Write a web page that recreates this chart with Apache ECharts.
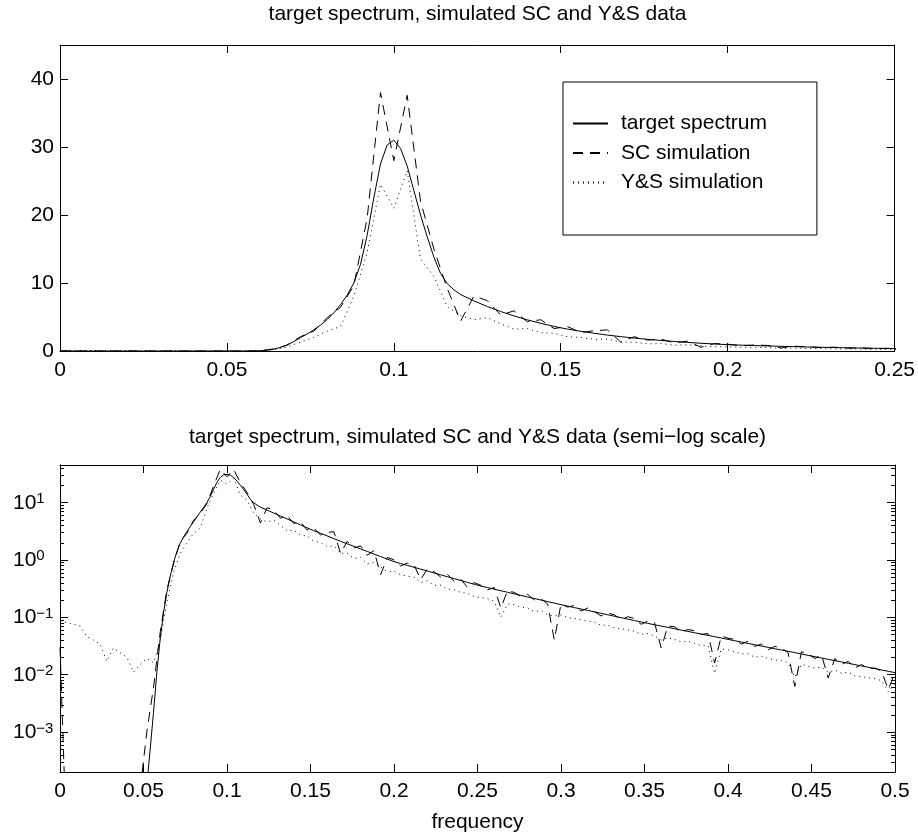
<!DOCTYPE html>
<html><head><meta charset="utf-8">
<script src="https://cdn.jsdelivr.net/npm/echarts@6/dist/echarts.min.js"></script>
<style>html,body{margin:0;padding:0;background:#fff}#c{width:918px;height:837px}</style>
</head><body><div id="c"></div><script>
// frequency grid of the simulated spectra
const freqSim = [0,0.004,0.008,0.012,0.016,0.02,0.024,0.028,0.032,0.036,
0.04,0.044,0.048,0.052,0.056,0.06,0.064,0.068,0.072,0.076,
0.08,0.084,0.088,0.092,0.096,0.1,0.104,0.108,0.112,0.116,
0.12,0.124,0.128,0.132,0.136,0.14,0.144,0.148,0.152,0.156,
0.16,0.164,0.168,0.172,0.176,0.18,0.184,0.188,0.192,0.196,
0.2,0.204,0.208,0.212,0.216,0.22,0.224,0.228,0.232,0.236,
0.24,0.244,0.248,0.252,0.256,0.26,0.264,0.268,0.272,0.276,
0.28,0.284,0.288,0.292,0.296,0.3,0.304,0.308,0.312,0.316,
0.32,0.324,0.328,0.332,0.336,0.34,0.344,0.348,0.352,0.356,
0.36,0.364,0.368,0.372,0.376,0.38,0.384,0.388,0.392,0.396,
0.4,0.404,0.408,0.412,0.416,0.42,0.424,0.428,0.432,0.436,
0.44,0.444,0.448,0.452,0.456,0.46,0.464,0.468,0.472,0.476,
0.48,0.484,0.488,0.492,0.496,0.5];

// target spectrum: finer sampling around the peak, then the simulation grid
const freqTargetHead = [0,0.01,0.02,0.03,0.04,
0.044,0.046,0.048,0.05,0.052,0.054,0.056,0.058,0.06,0.062,
0.064,0.066,0.068,0.07,0.072,0.074,0.076,0.078,0.08,0.082,
0.084,0.086,0.088,0.09,0.092,0.094,0.096,0.098,0.1,0.102,
0.104,0.106,0.108,0.11,0.112,0.114,0.116,0.118,0.12];
const freqTarget = freqTargetHead.concat(freqSim.slice(31));
const targetSpectrum = [0,0,0,0,0,
2e-9,1e-7,3e-6,2.5e-5,1.2e-4,5e-4,0.0022,0.011,0.042,0.12,
0.27,0.52,0.9,1.38,1.95,2.5,3.1,3.8,4.6,5.6,
6.8,8.2,10.0,12.7,17.0,22.5,27.5,30.3,31.0,29.8,
27.2,23.6,20.0,16.8,13.8,11.4,9.9,9.0,8.3,
7.37,6.54,5.81,5.16,4.58,4.07,3.61,3.22,2.90,2.61,
2.34,2.11,1.90,1.72,1.55,1.40,1.26,1.14,1.03,0.93,
0.862,0.80,0.741,0.687,0.637,0.590,0.547,0.507,0.470,0.436,
0.404,0.375,0.349,0.328,0.308,0.289,0.272,0.255,0.240,0.225,
0.212,0.199,0.187,0.176,0.165,0.156,0.147,0.139,0.131,0.124,
0.117,0.110,0.104,0.098,0.0926,0.0874,0.0825,0.0779,0.0738,0.070,
0.0664,0.0629,0.0596,0.0565,0.0536,0.0508,0.0482,0.0457,0.0433,0.041,
0.0389,0.0369,0.0349,0.0331,0.0314,0.0298,0.0282,0.0268,0.0254,0.0241,
0.0228,0.0216,0.0205,0.0194,0.0184,0.0175,0.0166,0.0157,0.0149,0.0141,
0.0134,0.0127,0.012,0.0114,0.0108];

const scSimulation = [0.03,0.00001,0,0,0,0,0,0,0,0,
0,0,0.0001,0.001,0.006,0.055,0.30,0.85,2.1,2.9,
4.9,6.4,9.6,19.5,38.0,28.0,37.6,22.0,15.0,9.2,
4.4,8.1,7.4,5.3,5.9,4.3,4.6,3.3,3.6,2.7,
3.0,3.1,1.3,2.1,1.6,1.75,1.2,1.45,0.55,1.1,
1.0,0.78,0.88,0.82,0.45,0.70,0.62,0.50,0.56,0.42,
0.46,0.33,0.40,0.36,0.30,0.33,0.145,0.29,0.27,0.23,
0.25,0.20,0.21,0.17,0.04,0.17,0.15,0.16,0.128,0.145,
0.125,0.105,0.118,0.11,0.09,0.102,0.095,0.075,0.086,0.08,
0.029,0.07,0.068,0.055,0.061,0.058,0.050,0.052,0.016,0.047,
0.043,0.041,0.034,0.038,0.031,0.034,0.027,0.031,0.029,0.024,
0.0062,0.025,0.023,0.019,0.022,0.0087,0.019,0.015,0.017,0.013,
0.015,0.0125,0.013,0.0115,0.0054,0.011];

const ysSimulation = [0.08,0.082,0.075,0.07,0.046,0.04,0.034,0.017,0.029,0.024,
0.02,0.011,0.015,0.019,0.016,0.04,0.18,0.6,1.3,2.0,
2.9,3.6,8.0,14.5,24.5,21.0,26.5,13.5,11.0,6.5,
5.2,4.6,4.9,4.0,3.2,3.3,2.7,2.6,2.1,2.0,
1.7,1.75,1.3,1.3,1.05,1.1,0.85,0.9,0.75,0.62,
0.63,0.55,0.52,0.5,0.4,0.43,0.36,0.36,0.31,0.30,
0.27,0.26,0.23,0.22,0.21,0.19,0.10,0.17,0.165,0.15,
0.145,0.125,0.13,0.11,0.105,0.11,0.098,0.095,0.09,0.085,
0.082,0.072,0.073,0.065,0.063,0.06,0.057,0.05,0.052,0.047,
0.04,0.044,0.041,0.037,0.038,0.035,0.032,0.032,0.0105,0.028,
0.027,0.025,0.023,0.023,0.02,0.021,0.019,0.018,0.0175,0.016,
0.009,0.015,0.014,0.013,0.0135,0.011,0.012,0.0105,0.011,0.0095,
0.0092,0.0088,0.0085,0.0078,0.005,0.007];

const seriesNames = ['target spectrum','SC simulation','Y&S simulation'];
const titleTop = 'target spectrum, simulated SC and Y&S data';
const titleBottom = 'target spectrum, simulated SC and Y&S data (semi\u2212log scale)';
const xLabelBottom = 'frequency';

const FONT = '"Liberation Sans", Arial, Helvetica, sans-serif';
const FS = 21;
const BLACK = '#000';
const DASH = [10, 7];
const DOT = [1, 4];

function pairs(xs, ys, log) {
  return xs.map((x, i) => [x, log ? (ys[i] > 0 ? ys[i] : null) : ys[i]]);
}
// log-axis minor tick positions (2..9 per decade)
const minorTicks = [];
for (let k = -4; k <= 1; k++) for (let m = 2; m <= 9; m++) {
  const v = m * Math.pow(10, k);
  if (v > 0.0002 && v < 45) minorTicks.push([0, v]);
}

const chart = echarts.init(document.getElementById('c'), null, {renderer: 'canvas'});

const axLine = {show: true, onZero: false, lineStyle: {color: BLACK, width: 1}};
const tick = {show: true, inside: true, length: 8, lineStyle: {color: BLACK, width: 1}};
const lbl = {color: BLACK, fontSize: FS, fontFamily: FONT};

function xAx(grid, max, interval, pos, showLabel, extra) {
  return Object.assign({
    gridIndex: grid, type: 'value', min: 0, max: max, interval: interval, position: pos,
    axisLine: axLine, axisTick: tick, splitLine: {show: false},
    axisLabel: Object.assign({show: showLabel, margin: 9}, lbl)
  }, extra || {});
}

const logFmt = v => {
  const e = Math.log10(v), r = Math.round(e);
  if (Math.abs(e - r) > 1e-6) return '';
  return '{b|10}{s|' + (r < 0 ? '\u2212' + (-r) : r) + '}';
};
const logLabel = {
  show: true, formatter: logFmt, align: 'left', margin: 47,
  showMinLabel: false, showMaxLabel: false,
  rich: {
    b: {fontSize: FS, fontFamily: FONT, color: BLACK, lineHeight: 22, verticalAlign: 'bottom'},
    s: {fontSize: 15, fontFamily: FONT, color: BLACK, lineHeight: 12, verticalAlign: 'top'}
  }
};

function line(name, xi, yi, data, type) {
  return {
    name: name, type: 'line', xAxisIndex: xi, yAxisIndex: yi, data: data,
    symbol: 'none', showSymbol: false, clip: true, animation: false,
    lineStyle: {color: BLACK, width: 1, type: type},
    itemStyle: {color: BLACK}
  };
}

const option = {
  backgroundColor: '#fff',
  animation: false,
  grid: [
    {left: 60, right: 23, top: 45, height: 306},
    {left: 60, right: 23, top: 465, height: 307}
  ],
  xAxis: [
    xAx(0, 0.25, 0.05, 'bottom', true),
    xAx(0, 0.25, 0.05, 'top', false),
    xAx(1, 0.5, 0.05, 'bottom', true, {name: xLabelBottom, nameLocation: 'middle', nameGap: 40,
      nameTextStyle: {color: BLACK, fontSize: FS, fontFamily: FONT}}),
    xAx(1, 0.5, 0.05, 'top', false)
  ],
  yAxis: [
    {gridIndex: 0, type: 'value', min: 0, max: 45, interval: 10, position: 'left',
     axisLine: axLine, axisTick: tick, splitLine: {show: false},
     axisLabel: Object.assign({margin: 6, showMaxLabel: false}, lbl)},
    {gridIndex: 0, type: 'value', min: 0, max: 45, interval: 10, position: 'right',
     axisLine: axLine, axisTick: tick, splitLine: {show: false}, axisLabel: {show: false}},
    {gridIndex: 1, type: 'log', logBase: 10, min: 0.0002, max: 45, position: 'left',
     axisLine: axLine, axisTick: tick, splitLine: {show: false}, minorTick: {show: false},
     axisLabel: logLabel},
    {gridIndex: 1, type: 'log', logBase: 10, min: 0.0002, max: 45, position: 'right',
     axisLine: axLine, axisTick: tick, splitLine: {show: false}, axisLabel: {show: false}}
  ],
  legend: {
    data: seriesNames, orient: 'vertical', left: 563, top: 82,
    padding: [31, 50, 42, 9], itemWidth: 35, itemHeight: 20, itemGap: 8.5,
    borderColor: BLACK, borderWidth: 1, borderRadius: 0, backgroundColor: '#fff',
    selectedMode: false,
    itemStyle: {opacity: 0},
    textStyle: {fontSize: FS, fontFamily: FONT, color: BLACK, lineHeight: 20, padding: [0, 0, 0, 8]}
  },
  graphic: [
    {type: 'text', x: 477.5, y: 14, style: {text: titleTop, fill: BLACK, fontSize: FS, fontFamily: FONT, align: 'center', verticalAlign: 'middle'}},
    {type: 'text', x: 477.5, y: 437, style: {text: titleBottom, fill: BLACK, fontSize: FS, fontFamily: FONT, align: 'center', verticalAlign: 'middle'}}
  ],
  series: [
    line(seriesNames[0], 0, 0, pairs(freqTarget, targetSpectrum, false), 'solid'),
    line(seriesNames[1], 0, 0, pairs(freqSim, scSimulation, false), DASH),
    line(seriesNames[2], 0, 0, pairs(freqSim, ysSimulation, false), DOT),
    line(seriesNames[0], 2, 2, pairs(freqTarget, targetSpectrum, true), 'solid'),
    line(seriesNames[1], 2, 2, pairs(freqSim, scSimulation, true), DASH),
    line(seriesNames[2], 2, 2, pairs(freqSim, ysSimulation, true), DOT),
    {
      type: 'custom', xAxisIndex: 2, yAxisIndex: 2, data: minorTicks, silent: true, clip: false,
      renderItem: function (params, api) {
        const y = Math.round(api.coord([0, api.value(1)])[1]) + 0.5;
        const cs = params.coordSys;
        return {type: 'group', children: [
          {type: 'line', shape: {x1: cs.x, y1: y, x2: cs.x + 4, y2: y}, style: {stroke: BLACK, lineWidth: 1}},
          {type: 'line', shape: {x1: cs.x + cs.width, y1: y, x2: cs.x + cs.width - 4, y2: y}, style: {stroke: BLACK, lineWidth: 1}}
        ]};
      }
    }
  ]
};
chart.setOption(option);
</script></body></html>
